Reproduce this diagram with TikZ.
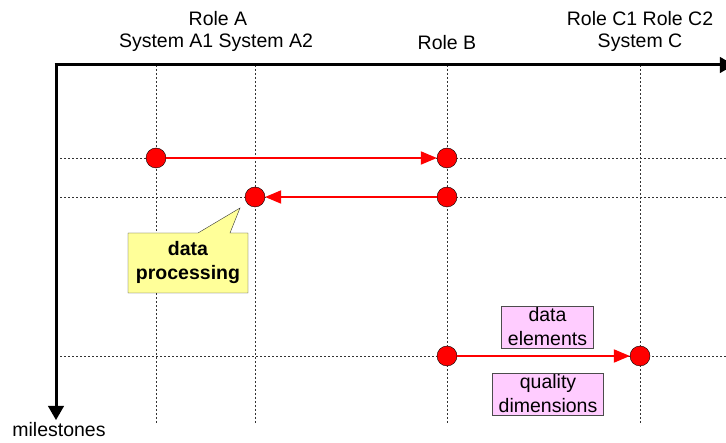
\documentclass[tikz,border=0pt]{standalone}
\usepackage{fontspec}
\setmainfont{Liberation Sans}
\usetikzlibrary{positioning}
\usetikzlibrary{arrows}
\tikzstyle{axis} = [line width=3pt, >=triangle 60]
\tikzstyle{grid} = [dash pattern=on 2pt off 2pt, line width=0.8pt, black!80]
\tikzstyle{event} = [circle, draw=black, fill=red, minimum size=20pt, inner sep=0pt]
\tikzstyle{flow} = [->, >=triangle 45, draw=red, line width=2.8pt]
\tikzstyle{tag} = [draw=black!70, fill=tagpink, inner sep=2pt, align=center]
\definecolor{note}{RGB}{255,255,153}
\definecolor{tagpink}{RGB}{255,204,255}

\begin{document}
\begin{tikzpicture}[x=1pt, y=-1pt, font=\fontsize{19.5}{24}\selectfont]
    \useasboundingbox (0,0) rectangle (726,443);
    % grid
    \foreach \x in {156,255,447,640}
        \draw[grid] (\x,65) -- (\x,423);
    \foreach \y in {158,197,356}
        \draw[grid] (56,\y) -- (726,\y);
    % axes
    \coordinate (origin) at (56,65);
    \coordinate (timeend) at (56,420);
    \coordinate (roleend) at (734,65);
    \draw[axis,->] (origin) -- (timeend);
    \draw[axis,->] ([xshift=-1.5pt]origin) -- (roleend);
    \node (milestones) at (59,430) {milestones};
    % roles
    \node (rolea) at (218,19) {Role A};
    \node (systema) at (216,43) {System A1 System A2};
    \node (roleb) at (447,43) {Role B};
    \node (rolec) at (640,19) {Role C1 Role C2};
    \node (systemc) at (640,43) {System C};
    % events
    \node[event] (a1) at (156,158) {};
    \node[event] (b1) at (447,158) {};
    \node[event] (a2) at (255,197) {};
    \node[event] (b2) at (447,197) {};
    \node[event] (b3) at (447,356) {};
    \node[event] (c3) at (640,356) {};
    \draw[flow] (a1) -- (b1);
    \draw[flow] (b2) -- (a2);
    \draw[flow] (b3) -- (c3);
    % callout
    \draw[black!80, fill=note] (128,233) -- (198,233) -- (240,208) -- (230,233)
        -- (248,233) -- (248,293) -- (128,293) -- cycle;
    \node[font=\fontsize{19.5}{24}\selectfont\bfseries, align=center] (processing) at (188,263) {data\\processing};
    \node[tag, text width=88pt] (elements) at (547.5,327) {data\\elements};
    \node[tag, text width=107pt] (dimensions) at (548,394) {quality\\dimensions};
\end{tikzpicture}
\end{document}
